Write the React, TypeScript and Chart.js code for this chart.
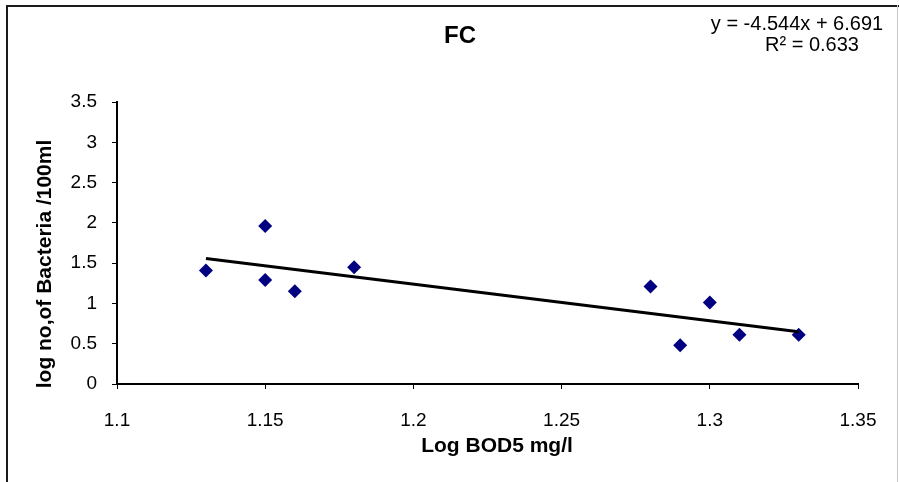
import React, { useEffect, useRef } from "react";
import { Chart, registerables } from "chart.js";

Chart.register(...registerables);

const xValues = [1.13, 1.15, 1.15, 1.16, 1.18, 1.28, 1.29, 1.3, 1.31, 1.33];
const yValues = [1.41, 1.96, 1.29, 1.15, 1.45, 1.21, 0.48, 1.01, 0.61, 0.61];
const xTickLabels = ["1.1", "1.15", "1.2", "1.25", "1.3", "1.35"];
const yTickLabels = ["0", "0.5", "1", "1.5", "2", "2.5", "3", "3.5"];
const trendSlope = -4.544;
const trendIntercept = 6.691;
const rSquared = 0.633;
const trendRange = [1.13, 1.33];
const chartTitle = "FC";
const xAxisTitle = "Log BOD5 mg/l";
const yAxisTitle = "log no,of Bacteria /100ml";

const FONT = "'Liberation Sans', Arial, sans-serif";

const overlayPlugin = {
  id: "overlay",
  afterDraw(chart: any) {
    const ctx = chart.ctx;
    ctx.save();
    // frame
    ctx.fillStyle = "#1a1a1a";
    ctx.fillRect(6, 5, 2, 482);
    ctx.fillRect(6, 5, 893, 2);
    ctx.fillStyle = "#c8c8c8";
    ctx.fillRect(897, 5, 1, 482);
    // title
    ctx.fillStyle = "#000";
    ctx.textAlign = "center";
    ctx.textBaseline = "middle";
    ctx.font = `bold 24px ${FONT}`;
    ctx.fillText(chartTitle, 460, 36);
    // equation
    ctx.font = `20px ${FONT}`;
    const eq = `y = ${trendSlope.toFixed(3)}x + ${trendIntercept.toFixed(3)}`;
    ctx.fillText(eq, 797, 24);
    ctx.fillText(`R² = ${rSquared.toFixed(3)}`, 812, 45);
    // axis titles
    ctx.font = `bold 21px ${FONT}`;
    ctx.fillText(xAxisTitle, 497, 446);
    ctx.save();
    ctx.translate(45, 264);
    ctx.rotate(-Math.PI / 2);
    ctx.font = `bold 21px ${FONT}`;
    ctx.fillText(yAxisTitle, 0, 0);
    ctx.restore();
    ctx.restore();
  },
};

export default function App() {
  const ref = useRef<HTMLCanvasElement | null>(null);
  useEffect(() => {
    if (!ref.current) return;
    const trend = trendRange.map((x) => ({ x, y: trendSlope * x + trendIntercept }));
    const chart = new Chart(ref.current, {
      type: "scatter",
      data: {
        datasets: [
          {
            type: "line",
            data: trend,
            borderColor: "#000",
            borderWidth: 3,
            pointRadius: 0,
            fill: false,
          } as any,
          {
            data: xValues.map((x, i) => ({ x, y: yValues[i] })),
            pointStyle: "rectRot",
            pointRadius: 7,
            pointHoverRadius: 7,
            backgroundColor: "#000080",
            borderColor: "#000080",
            borderWidth: 0,
          },
        ],
      },
      options: {
        responsive: false,
        animation: false,
        events: [],
        layout: { padding: { left: 0, right: 41, top: 102, bottom: 0 } },
        plugins: {
          legend: { display: false },
          title: { display: false },
          tooltip: { enabled: false },
        },
        scales: {
          x: {
            type: "linear",
            min: 1.1,
            max: 1.35,
            afterFit: (s: any) => {
              s.height = 98;
            },
            afterBuildTicks: (s: any) => {
              s.ticks = xTickLabels.map((l) => ({ value: parseFloat(l) }));
            },
            ticks: {
              color: "#000",
              font: { family: FONT, size: 19 },
              padding: 20,
              maxRotation: 0,
              callback: (_v: any, i: number) => xTickLabels[i],
            },
            grid: {
              display: true,
              drawOnChartArea: false,
              drawTicks: true,
              tickLength: 5,
              tickColor: "#000",
              tickWidth: 1,
            },
            border: { color: "#000", width: 2 },
          },
          y: {
            type: "linear",
            min: 0,
            max: 3.5,
            afterFit: (s: any) => {
              s.width = 117;
            },
            afterBuildTicks: (s: any) => {
              s.ticks = yTickLabels.map((l) => ({ value: parseFloat(l) }));
            },
            ticks: {
              color: "#000",
              font: { family: FONT, size: 19 },
              padding: 15,
              callback: (_v: any, i: number) => yTickLabels[i],
            },
            grid: {
              display: true,
              drawOnChartArea: false,
              drawTicks: true,
              tickLength: 5,
              tickColor: "#000",
              tickWidth: 1,
            },
            border: { color: "#000", width: 2 },
          },
        },
      },
      plugins: [overlayPlugin],
    });
    return () => chart.destroy();
  }, []);
  return (
    <div style={{ position: "absolute", left: 0, top: 0, width: 899, height: 482, background: "#fff" }}>
      <canvas ref={ref} width={899} height={482} style={{ display: "block" }} />
    </div>
  );
}
